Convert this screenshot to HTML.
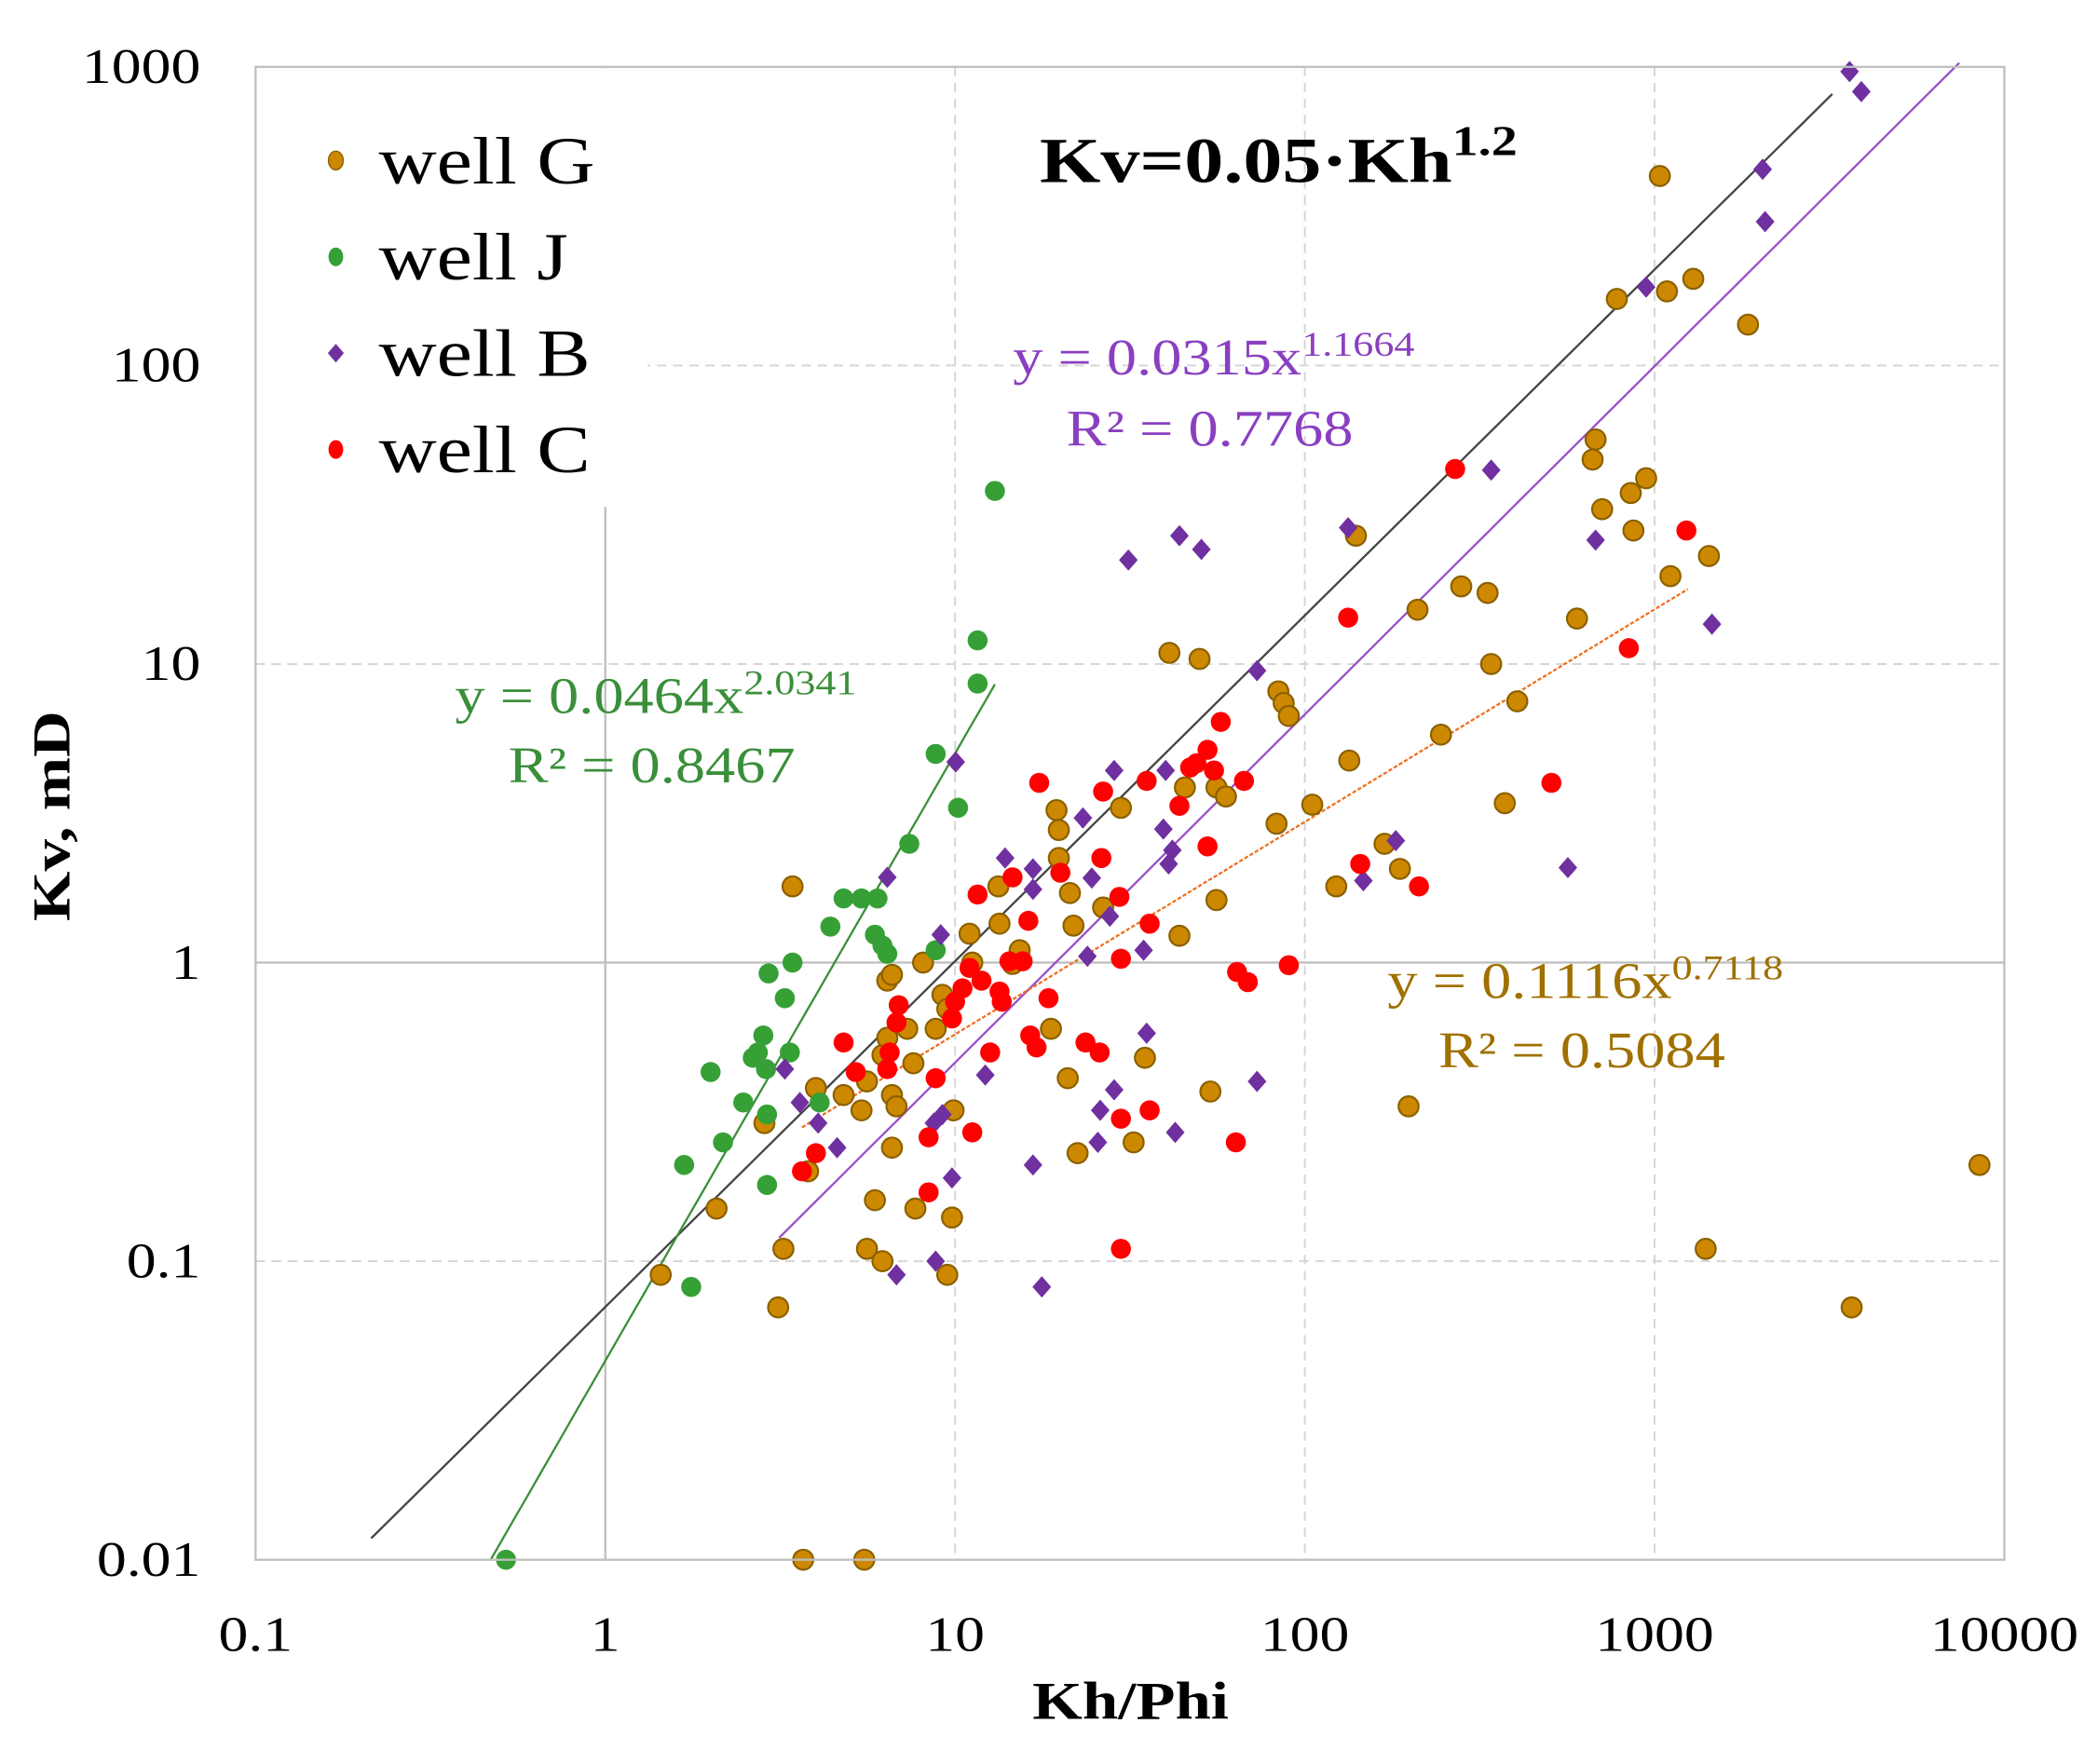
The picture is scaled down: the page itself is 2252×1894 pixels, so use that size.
<!DOCTYPE html>
<html><head><meta charset="utf-8"><style>
html,body{margin:0;padding:0;background:#fff;}
svg{display:block;}
text{font-family:"Liberation Serif",serif;}
</style></head><body>
<svg id="chart" width="2252" height="1894" viewBox="0 0 1568 1318.7" preserveAspectRatio="none" xmlns="http://www.w3.org/2000/svg">
<g id="grid"></g>
<g id="lines"></g>
<g id="marks"></g>
<g id="legend"></g>
<g id="axes"></g>
</svg>
<script>
const xTicks=[0.1,1,10,100,1000,10000];
const xTickLabels=["0.1","1","10","100","1000","10000"];
const yTicks=[0.01,0.1,1,10,100,1000];
const yTickLabels=["0.01","0.1","1","10","100","1000"];
const gX=[1.44,2.08,2.85,3.23,3.12,3.68,5.5,3.8,3.43,4.0,4.8,5.4,5.6,5.9,6.2,6.4,6.6,6.6,6.6,6.8,7.3,7.6,7.7,8.1,8.8,9.2,9.5,9.5,9.8,9.9,11,11.2,13.3,13.4,14.6,15.3,18.8,19.5,19.8,19.8,21,21.3,21.8,22.4,26.5,29.8,32.4,34.9,41,43.8,45.4,50,53.7,55.9,55.9,59.5,83,84,87,90,105,123,134,140,169,187,198,210,245,280,333,341,373,405,600,665,678,708,780,855,870,946,1035,1085,1110,1290,1400,1430,1850,3660,8490,5.6,6.2,6.4];
const gY=[0.09,0.15,0.29,0.11,0.07,0.01,0.01,0.2,1.8,0.38,0.36,0.32,0.4,0.16,0.49,0.87,0.91,0.36,0.24,0.33,0.6,0.46,0.15,1.0,0.6,0.78,0.7,0.09,0.14,0.32,1.25,1.0,1.8,1.35,0.99,1.1,0.6,3.24,2.78,2.24,0.41,1.71,1.33,0.23,1.53,3.3,0.25,0.48,10.9,1.23,3.86,10.4,0.37,3.86,1.62,3.6,2.92,8.1,7.4,6.7,3.38,1.8,4.75,26.9,2.5,2.06,0.33,15.2,5.8,18.2,17.3,10,3.42,7.5,14.2,48.4,56.5,33,167,37.4,28,41.9,431,177,19.7,195,0.11,23,137,0.07,0.21,0.11,0.1,0.56];
const jX=[0.52,1.76,1.68,2.17,2.0,2.48,2.64,2.73,2.83,2.88,2.9,2.9,2.93,3.26,3.43,3.37,4.1,4.4,4.8,5.4,6.0,5.9,6.2,6.4,7.4,8.8,8.8,10.2,11.6,11.6,13.0];
const jY=[0.01,0.082,0.21,0.25,0.43,0.34,0.48,0.50,0.57,0.44,0.31,0.18,0.92,0.76,1.0,0.50,0.34,1.32,1.64,1.64,1.64,1.24,1.14,1.07,2.5,5.0,1.1,3.3,12,8.6,38];
const bX=[3610,3900,2037,2070,946,341,133,678,43.8,50.6,31.3,1459,73,10.04,28.5,40,23.2,39.4,182,147,565,13.9,16.7,16.7,24.6,41.8,40.8,6.4,9.1,27.7,34.6,23.9,12.2,35.3,73,28.5,26,42.6,25.6,16.7,9.8,4.6,3.6,4.06,9.2,8.7,6.8,8.8,17.7,3.26];
const bY=[964,826,454,303,183,44.6,28.6,26,26.9,24.2,22.3,13.6,9.5,4.7,4.4,4.4,3.05,2.8,2.56,1.88,2.08,2.24,2.06,1.76,1.92,2.38,2.14,1.93,1.24,1.43,1.1,1.05,0.42,0.58,0.40,0.375,0.32,0.27,0.25,0.21,0.19,0.24,0.34,0.29,0.31,0.29,0.09,0.1,0.082,0.44];
const cX=[269,1233,133,844,57.5,507,17.4,35.3,67,49,52.7,55,47,26.5,43.8,144,212,52.7,26.2,20,14.6,11.6,16.2,29.5,36,29.8,90,64,68.7,15.6,14.3,13.4,11.9,10.5,10,9.8,18.5,13.6,6.9,6.8,16.4,17.1,23.6,25.9,12.6,4.8,6.4,5.2,8.8,36,29.8,11.2,8.4,63.5,4.0,3.65,8.4,29.8,6.5,11];
const cY=[45,28,14.3,11.3,6.4,4.0,4.0,4.06,4.06,4.65,5.16,4.4,4.5,3.74,3.35,2.14,1.8,2.45,2.24,2.0,1.93,1.69,1.38,1.66,1.35,1.03,0.98,0.93,0.86,1.01,1.01,0.8,0.87,0.82,0.74,0.65,0.76,0.74,0.72,0.63,0.57,0.52,0.54,0.50,0.5,0.54,0.44,0.43,0.41,0.32,0.30,0.27,0.26,0.25,0.23,0.2,0.17,0.11,0.5,0.96];
// fits: [coef, exponent, xmin, xmax]
const fitRef=[0.0703,1.158,0.214,3221];
const fitJ=[0.0464,2.0341,0.47,13];
const fitB=[0.0315,1.1664,3.14,7430];
const fitG=[0.1116,0.7118,3.65,1245];

const L=191,R=1498,T=50,B=1166,SX=1.2;
const sx=v=>L+(Math.log10(v)+1)*(R-L)/5;
const sy=v=>B-(Math.log10(v)+2)*(B-T)/5;
const NS="http://www.w3.org/2000/svg";
function mk(tag,attrs,parent){const e=document.createElementNS(NS,tag);for(const k in attrs)e.setAttribute(k,attrs[k]);parent.appendChild(e);return e;}
const grid=document.getElementById('grid'),lines=document.getElementById('lines'),marks=document.getElementById('marks'),legend=document.getElementById('legend'),axes=document.getElementById('axes');

xTicks.forEach((v,i)=>{if(i===0||i===xTicks.length-1)return;const solid=v===1;
 const l=mk('line',{x1:sx(v),x2:sx(v),y1:T,y2:B,stroke:solid?'#bdbdbd':'#d6d6d6','stroke-width':solid?1.6:1.4,'stroke-dasharray':solid?'':'7,5'},grid);
 
 });
yTicks.forEach((v,i)=>{if(i===0||i===yTicks.length-1)return;const solid=v===1;
 const l=mk('line',{x1:L,x2:R,y1:sy(v),y2:sy(v),stroke:solid?'#bdbdbd':'#d6d6d6','stroke-width':solid?1.6:1.4,'stroke-dasharray':solid?'':'7,5'},grid);
 
 });

function fitLine(f,color,name,dash){const pts=[];const n=40;for(let i=0;i<=n;i++){const x=Math.pow(10,Math.log10(f[2])+(Math.log10(f[3])-Math.log10(f[2]))*i/n);pts.push(sx(x).toFixed(1)+','+sy(f[0]*Math.pow(x,f[1])).toFixed(1));}
 const p=mk('polyline',{points:pts.join(' '),fill:'none',stroke:color,'stroke-width':1.6,'stroke-dasharray':dash||''},lines);
 
 }
fitLine(fitRef,'#444','reference-line');
fitLine(fitJ,'#3a8f3a','trend-well-j');
fitLine(fitB,'#9a50c8','trend-well-b');
fitLine(fitG,'#f07020','trend-well-g','3,1.5');

function circles(X,Y,fill,stroke,name,r){X.forEach((x,i)=>{const c=mk('circle',{cx:sx(x),cy:sy(Y[i]),r:r,fill:fill,stroke:stroke,'stroke-width':stroke==='none'?0:1.5},marks);
 
 });}
function diamonds(X,Y,fill,name){X.forEach((x,i)=>{const cx=sx(x),cy=sy(Y[i]),h=7,v=8;const p=mk('polygon',{points:`${cx},${cy-v} ${cx+h},${cy} ${cx},${cy+v} ${cx-h},${cy}`,fill:fill},marks);
 
 });}
circles(gX,gY,'#cc8800','#8a6000','point-well-g',7.5);
circles(jX,jY,'#36a036','none','point-well-j',7.5);
diamonds(bX,bY,'#7030a0','point-well-b');
circles(cX,cY,'#ff0000','none','point-well-c',7.5);

const lb=mk('rect',{x:L+1,y:T+1,width:292,height:328,fill:'#fff'},legend);


const leg=[['well G','#cc8800','c'],['well J','#36a036','c'],['well B','#7030a0','d'],['well C','#ff0000','c']];
leg.forEach((e,i)=>{const y=120+i*72;
 let m;
 if(e[2]==='d'){m=mk('polygon',{points:`251,${y-7} 257,${y} 251,${y+7} 245,${y}`,fill:e[1]},legend);}
 else{m=mk('ellipse',{cx:251,cy:y,rx:5.5,ry:7,fill:e[1],stroke:i===0?'#8a6000':'none','stroke-width':1},legend);}
 
 
 const t=mk('text',{transform:`translate(283,${y+17}) scale(${SX},1)`,'font-size':50,fill:'#000'},legend);t.textContent=e[0];
 
 });

const fr=mk('rect',{x:L,y:T,width:R-L,height:B-T,fill:'none',stroke:'#bfbfbf','stroke-width':1.6},axes);


xTicks.forEach((v,i)=>{const t=mk('text',{transform:`translate(${sx(v)},1234) scale(${SX},1)`,'font-size':37,'text-anchor':'middle'},axes);t.textContent=xTickLabels[i];
 
 });
yTicks.forEach((v,i)=>{const t=mk('text',{transform:`translate(150,${sy(v)+12}) scale(${SX},1)`,'font-size':37,'text-anchor':'end'},axes);t.textContent=yTickLabels[i];
 
 });
</script>
<svg style="position:absolute;left:0;top:0" width="2252" height="1894" viewBox="0 0 1568 1318.7" preserveAspectRatio="none" xmlns="http://www.w3.org/2000/svg">
<text transform="translate(845,1285) scale(1.2,1)" font-size="40" font-weight="bold" text-anchor="middle">Kh/Phi</text>
<text transform="translate(52,610) rotate(-90) scale(1.2,1)" font-size="40" font-weight="bold" text-anchor="middle">Kv, mD</text>
<text transform="translate(777,136) scale(1.22,1)" font-size="48" font-weight="bold">Kv=0.05·Kh<tspan font-size="32" dy="-20">1.2</tspan></text>
<text transform="translate(757,280) scale(1.18,1)" font-size="38" fill="#8a3fc0">y = 0.0315x<tspan font-size="26" dy="-14">1.1664</tspan></text>
<text transform="translate(797,333) scale(1.18,1)" font-size="38" fill="#8a3fc0">R² = 0.7768</text>
<text transform="translate(340,533) scale(1.18,1)" font-size="38" fill="#3a8f3a">y = 0.0464x<tspan font-size="26" dy="-14">2.0341</tspan></text>
<text transform="translate(380,585) scale(1.18,1)" font-size="38" fill="#3a8f3a">R² = 0.8467</text>
<text transform="translate(1037,746) scale(1.18,1)" font-size="38" fill="#a07000">y = 0.1116x<tspan font-size="26" dy="-14">0.7118</tspan></text>
<text transform="translate(1075,798) scale(1.18,1)" font-size="38" fill="#a07000">R² = 0.5084</text>
</svg>
</body></html>
